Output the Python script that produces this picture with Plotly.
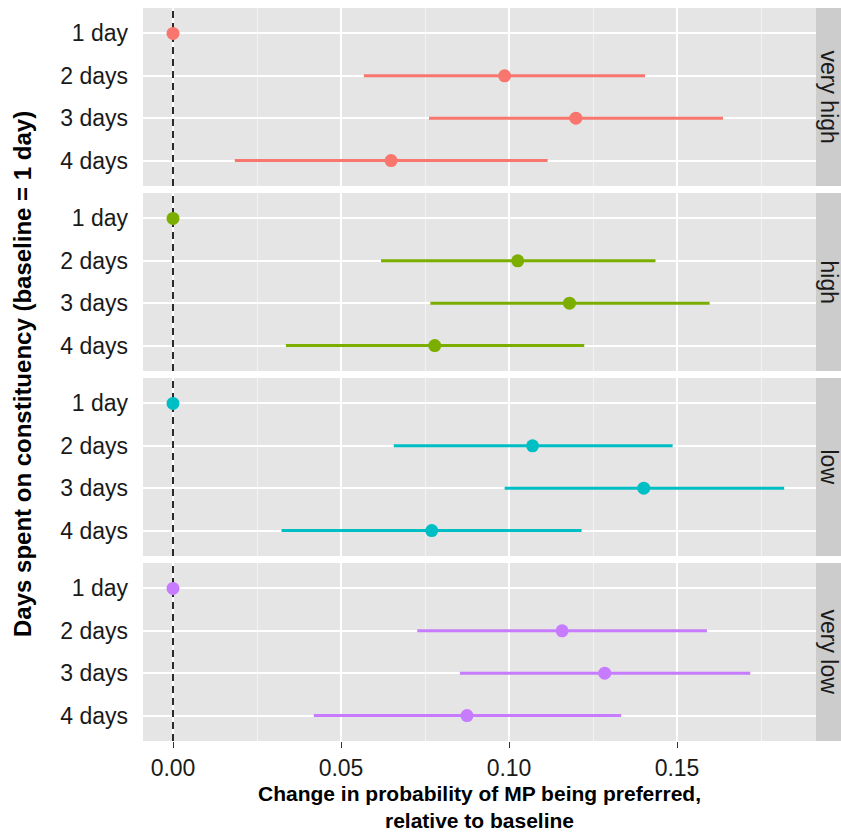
import plotly.graph_objects as go
from plotly.subplots import make_subplots

# Categories and estimates (change vs. 1-day baseline) with 95% intervals
days = ["1 day", "2 days", "3 days", "4 days"]
levels = ["very high", "high", "low", "very low"]
colors = ["#F8766D", "#7CAE00", "#00BFC4", "#C77CFF"]

est_very_high = [0.0, 0.0987, 0.1199, 0.0649]
lo_very_high = [0.0, 0.0568, 0.0762, 0.0184]
hi_very_high = [0.0, 0.1405, 0.1637, 0.1115]

est_high = [0.0, 0.1026, 0.1180, 0.0779]
lo_high = [0.0, 0.0619, 0.0766, 0.0336]
hi_high = [0.0, 0.1436, 0.1597, 0.1224]

est_low = [0.0, 0.1070, 0.1401, 0.0770]
lo_low = [0.0, 0.0657, 0.0987, 0.0323]
hi_low = [0.0, 0.1487, 0.1819, 0.1216]

est_very_low = [0.0, 0.1158, 0.1285, 0.0875]
lo_very_low = [0.0, 0.0727, 0.0854, 0.0419]
hi_very_low = [0.0, 0.1589, 0.1718, 0.1334]

x_ticks = [0.0, 0.05, 0.10, 0.15]
x_ticklabels = ["0.00", "0.05", "0.10", "0.15"]
baseline = 0.0

estimates = [est_very_high, est_high, est_low, est_very_low]
lowers = [lo_very_high, lo_high, lo_low, lo_very_low]
uppers = [hi_very_high, hi_high, hi_low, hi_very_low]

W, H = 841, 836
FONT = "Liberation Sans, Arial, Helvetica, sans-serif"

# panel pixel extents (top, bottom) and horizontal extent
panel_px = [(8, 186), (193, 371), (378, 556), (563, 741)]
left_px, right_px, strip_right_px = 143, 816, 841

# discrete positions for the day categories, padded like a ggplot discrete scale
y_pos = list(range(1, len(days) + 1))
y_range = [len(days) + 0.6, 0.4]

fig = make_subplots(rows=4, cols=1, shared_xaxes=True)

for i, lvl in enumerate(levels):
    est, lo, hi = estimates[i], lowers[i], uppers[i]
    # dashed reference line at the baseline, spanning the whole panel
    fig.add_trace(
        go.Scatter(
            x=[baseline, baseline],
            y=y_range,
            mode="lines",
            line=dict(color="#2a2a2a", width=2, dash="7px,5px"),
            hoverinfo="skip",
            showlegend=False,
        ),
        row=i + 1,
        col=1,
    )
    fig.add_trace(
        go.Scatter(
            x=est,
            y=y_pos,
            mode="markers",
            marker=dict(size=13, color=colors[i]),
            error_x=dict(
                type="data",
                symmetric=False,
                array=[h - e for h, e in zip(hi, est)],
                arrayminus=[e - l for e, l in zip(est, lo)],
                width=0,
                thickness=3,
                color=colors[i],
            ),
            name=lvl,
            showlegend=False,
            cliponaxis=False,
        ),
        row=i + 1,
        col=1,
    )

x_range = [(left_px - 173) / 3360, (right_px - 173) / 3360]

shapes = []
annotations = []
for i, lvl in enumerate(levels):
    top, bot = panel_px[i]
    n = "" if i == 0 else str(i + 1)
    dom = [(H - bot) / H, (H - top) / H]
    fig.layout["yaxis" + n].update(
        domain=dom,
        range=y_range,
        tickvals=y_pos,
        ticktext=days,
        showgrid=True,
        gridcolor="white",
        gridwidth=2,
        zeroline=False,
        ticks="",
        ticklabelstandoff=14,
        tickfont=dict(family=FONT, size=23, color="#1a1a1a"),
        showline=False,
    )
    fig.layout["xaxis" + n].update(
        domain=[left_px / W, right_px / W],
        range=x_range,
        tickvals=x_ticks,
        ticktext=x_ticklabels,
        showgrid=True,
        gridcolor="white",
        gridwidth=2,
        minor=dict(dtick=0.025, tick0=0.025, showgrid=True, gridcolor="#F3F3F3", gridwidth=1, ticks=""),
        zeroline=False,
        showline=False,
        showticklabels=(i == 3),
        ticks="outside" if i == 3 else "",
        ticklen=6,
        tickwidth=1,
        tickcolor="#333333",
        tickfont=dict(family=FONT, size=23, color="#1a1a1a"),
    )
    # panel background
    shapes.append(dict(
        type="rect", xref="paper", yref="paper", layer="below",
        x0=left_px / W, x1=right_px / W, y0=dom[0], y1=dom[1],
        fillcolor="#E5E5E5", line=dict(width=0),
    ))
    # strip background
    shapes.append(dict(
        type="rect", xref="paper", yref="paper", layer="below",
        x0=right_px / W, x1=strip_right_px / W, y0=dom[0], y1=dom[1],
        fillcolor="#CCCCCC", line=dict(width=0),
    ))
    annotations.append(dict(
        text=lvl, textangle=90, xref="paper", yref="paper",
        x=(right_px + strip_right_px) / 2 / W, y=(dom[0] + dom[1]) / 2,
        showarrow=False, xanchor="center", yanchor="middle",
        font=dict(family=FONT, size=23, color="#1a1a1a"),
    ))

annotations.append(dict(
    text="<b>Days spent on constituency (baseline = 1 day)</b>",
    textangle=-90, xref="paper", yref="paper",
    x=22 / W, y=1 - 374 / H, showarrow=False,
    xanchor="center", yanchor="middle",
    font=dict(family=FONT, size=24, color="black"),
))
annotations.append(dict(
    text="<b>Change in probability of MP being preferred,<br>relative to baseline</b>",
    xref="paper", yref="paper",
    x=(left_px + right_px) / 2 / W, y=1 - 807 / H, showarrow=False,
    xanchor="center", yanchor="middle",
    font=dict(family=FONT, size=21, color="black"),
))

fig.update_layout(
    width=W,
    height=H,
    margin=dict(l=0, r=0, t=0, b=0),
    paper_bgcolor="white",
    plot_bgcolor="rgba(0,0,0,0)",
    shapes=shapes,
    annotations=annotations,
    showlegend=False,
)

fig.write_html("out.html")
